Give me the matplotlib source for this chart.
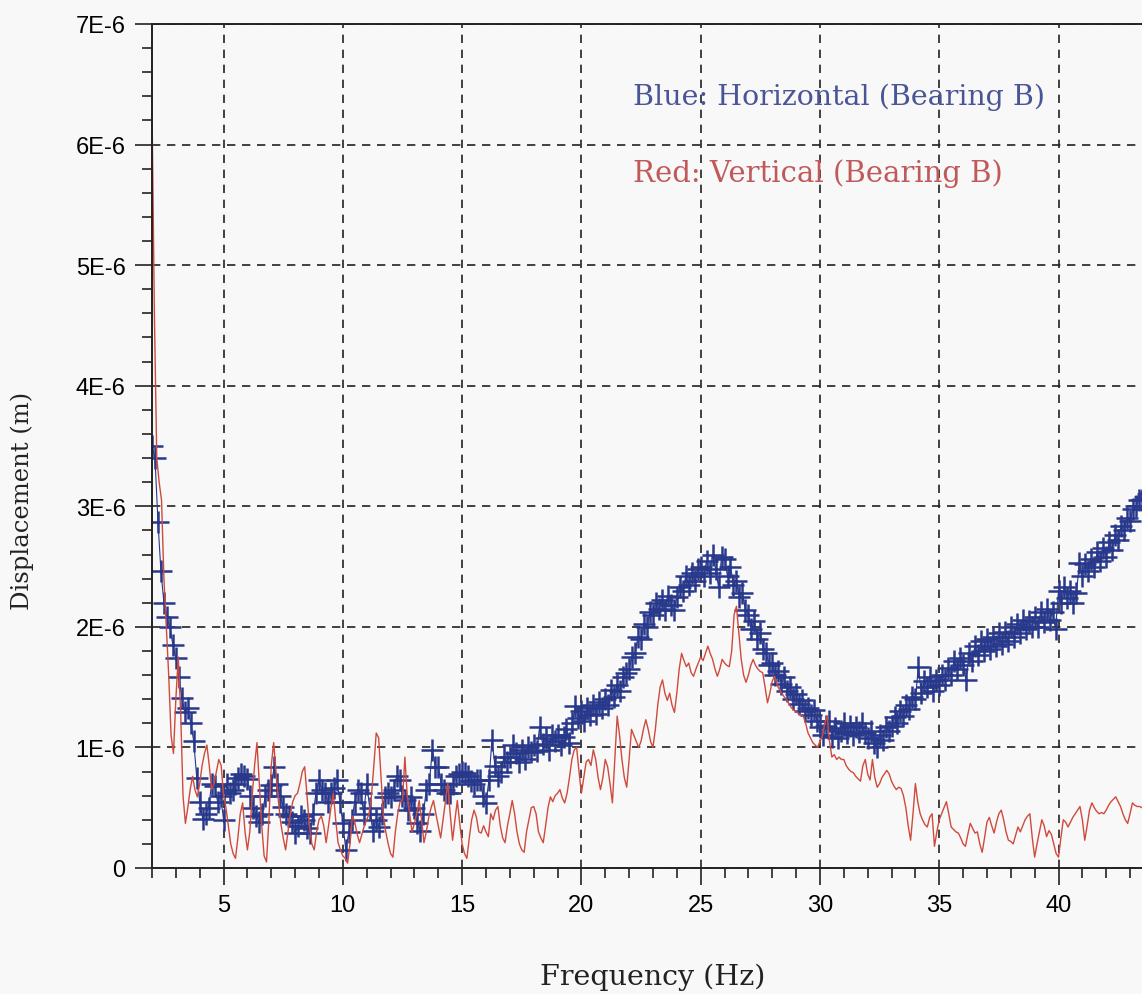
import numpy as np
import matplotlib.pyplot as plt
from matplotlib.ticker import MultipleLocator, FixedLocator, FuncFormatter

# vertical response, sampled every 0.1 Hz from 2 Hz (units of 1E-6 m)
red_disp = [
    6.3, 4.6, 3.4, 3.2, 3.05, 2.4, 2.0, 1.6, 1.1, 0.95,
    1.4, 1.75, 1.3, 0.6, 0.37, 0.5, 0.65, 0.76, 0.65, 0.59,
    0.7, 0.85, 0.95, 1.02, 0.85, 0.65, 0.7, 0.8, 0.9, 0.85,
    0.6, 0.5, 0.35, 0.2, 0.12, 0.08, 0.25, 0.45, 0.54, 0.3,
    0.15, 0.3, 0.6, 0.85, 1.04, 0.7, 0.35, 0.1, 0.05, 0.4,
    0.85, 1.04, 0.8, 0.55, 0.37, 0.25, 0.15, 0.3, 0.45, 0.55,
    0.6, 0.62, 0.7, 0.8, 0.84, 0.6, 0.35, 0.2, 0.15, 0.3,
    0.4, 0.43, 0.35, 0.21, 0.35, 0.5, 0.62, 0.4, 0.21, 0.15,
    0.1, 0.08, 0.04, 0.2, 0.43, 0.38, 0.28, 0.21, 0.28, 0.35,
    0.4, 0.45, 0.6, 0.85, 1.12, 1.08, 0.75, 0.43, 0.3, 0.2,
    0.12, 0.09, 0.3, 0.45, 0.55, 0.56, 0.92, 0.6, 0.45, 0.3,
    0.37, 0.45, 0.56, 0.4, 0.21, 0.3, 0.42, 0.5, 0.56, 0.45,
    0.35, 0.25, 0.4, 0.55, 0.7, 0.45, 0.23, 0.4, 0.56, 0.37,
    0.2, 0.12, 0.08, 0.25, 0.4, 0.48, 0.42, 0.3, 0.29, 0.35,
    0.3, 0.26, 0.45, 0.4, 0.48, 0.51, 0.35, 0.25, 0.21, 0.35,
    0.45, 0.56, 0.45, 0.3, 0.2, 0.15, 0.13, 0.3, 0.4, 0.5,
    0.51, 0.45, 0.3, 0.25, 0.21, 0.35, 0.5, 0.59, 0.55, 0.6,
    0.62, 0.65, 0.58, 0.54, 0.62, 0.75, 0.9, 0.98, 1.0, 0.8,
    0.62, 0.75, 0.88, 0.9, 0.85, 0.98, 0.9, 0.75, 0.65, 0.75,
    0.9, 0.84, 0.7, 0.54, 0.9, 1.26, 1.1, 0.9, 0.75, 0.67,
    0.9, 1.15, 1.1, 1.05, 1.0, 1.05, 1.15, 1.23, 1.15, 1.05,
    1.0, 1.15, 1.35, 1.5, 1.56, 1.45, 1.39, 1.45, 1.35, 1.29,
    1.45, 1.65, 1.78, 1.72, 1.67, 1.7, 1.62, 1.59, 1.65, 1.7,
    1.75, 1.72, 1.78, 1.84, 1.78, 1.73, 1.65, 1.59, 1.65, 1.73,
    1.7, 1.68, 1.67, 1.8, 2.1, 2.17, 1.95, 1.73, 1.6, 1.54,
    1.6, 1.68, 1.73, 1.68, 1.65, 1.63, 1.62, 1.5, 1.37, 1.45,
    1.55, 1.59, 1.52, 1.48, 1.45, 1.42, 1.4, 1.36, 1.33, 1.31,
    1.3, 1.28, 1.27, 1.26, 1.2, 1.12, 1.08, 1.04, 1.02, 1.0,
    1.05, 1.09, 1.2, 1.26, 1.05, 0.92, 0.94, 0.9, 0.92, 0.9,
    0.9, 0.85, 0.82, 0.8, 0.79, 0.76, 0.74, 0.72, 0.85, 0.9,
    0.78, 0.73, 0.9, 0.75, 0.67, 0.7, 0.75, 0.78, 0.81, 0.78,
    0.72, 0.68, 0.65, 0.67, 0.66, 0.6, 0.5, 0.35, 0.23, 0.45,
    0.7, 0.55, 0.45, 0.4, 0.36, 0.34, 0.42, 0.45, 0.18, 0.3,
    0.4, 0.45, 0.5, 0.55, 0.45, 0.34, 0.32, 0.3, 0.29, 0.25,
    0.2, 0.18, 0.28, 0.37, 0.33, 0.29, 0.3, 0.2, 0.13, 0.25,
    0.38, 0.42, 0.35, 0.29, 0.38, 0.45, 0.48, 0.4, 0.3, 0.23,
    0.22, 0.2, 0.27, 0.34, 0.3, 0.35, 0.4, 0.43, 0.45, 0.25,
    0.09, 0.2, 0.3, 0.4, 0.35, 0.26, 0.31, 0.28, 0.2, 0.12,
    0.09, 0.25, 0.4, 0.38, 0.34, 0.38, 0.42, 0.45, 0.48, 0.51,
    0.4, 0.23, 0.35, 0.48, 0.54, 0.5, 0.47, 0.45, 0.46, 0.45,
    0.48, 0.52, 0.55, 0.57, 0.59, 0.55, 0.51, 0.45, 0.4, 0.37,
    0.45, 0.54, 0.52, 0.51, 0.51, 0.5, 0.52, 0.55, 0.5, 0.48,
]

# horizontal response, sampled every 0.125 Hz from 2 Hz (units of 1E-6 m)
blue_disp = [
    3.5, 3.4, 2.87, 2.46, 2.2, 2.08, 2.0, 1.85,
    1.74, 1.58, 1.41, 1.29, 1.33, 1.2, 1.05, 0.75,
    0.55, 0.41, 0.45, 0.5, 0.7, 0.68, 0.55, 0.6,
    0.4, 0.7, 0.62, 0.65, 0.7, 0.75, 0.78, 0.76,
    0.74, 0.6, 0.5, 0.43, 0.38, 0.45, 0.6, 0.65,
    0.69, 0.84, 0.7, 0.6, 0.51, 0.45, 0.43, 0.38,
    0.29, 0.35, 0.43, 0.4, 0.33, 0.29, 0.45, 0.62,
    0.73, 0.65, 0.62, 0.55, 0.62, 0.66, 0.73, 0.55,
    0.37, 0.15, 0.3, 0.4, 0.55, 0.65, 0.62, 0.45,
    0.7, 0.5, 0.31, 0.4, 0.34, 0.45, 0.59, 0.62,
    0.59, 0.65, 0.76, 0.73, 0.6, 0.56, 0.48, 0.59,
    0.5, 0.37, 0.31, 0.45, 0.65, 0.7, 0.98, 0.84,
    0.84, 0.7, 0.65, 0.62, 0.62, 0.7, 0.76, 0.78,
    0.8, 0.79, 0.76, 0.72, 0.7, 0.73, 0.73, 0.6,
    0.54, 0.73, 1.06, 0.85, 0.76, 0.8, 0.92, 0.88,
    0.92, 1.02, 0.95, 0.88, 0.98, 0.9, 1.0, 0.96,
    1.02, 0.97, 1.17, 1.03, 1.08, 0.98, 1.1, 1.05,
    1.1, 1.02, 1.09, 1.15, 1.04, 1.2, 1.34, 1.24,
    1.3, 1.22, 1.33, 1.27, 1.35, 1.28, 1.38, 1.33,
    1.4, 1.35, 1.48, 1.42, 1.52, 1.47, 1.58, 1.62,
    1.65, 1.75, 1.78, 1.92, 1.9, 2.02, 2.0, 2.12,
    2.1, 2.2, 2.15, 2.22, 2.14, 2.26, 2.18, 2.14,
    2.25, 2.33, 2.3, 2.42, 2.35, 2.45, 2.38, 2.48,
    2.5, 2.42, 2.55, 2.45, 2.6, 2.48, 2.33, 2.58,
    2.56, 2.42, 2.5, 2.35, 2.38, 2.25, 2.28, 2.14,
    2.1, 1.98, 2.05, 1.9, 1.95, 1.82, 1.78, 1.68,
    1.7, 1.6, 1.63, 1.53, 1.58, 1.47, 1.5, 1.4,
    1.44, 1.36, 1.39, 1.3, 1.33, 1.27, 1.31, 1.22,
    1.17, 1.1, 1.18, 1.22, 1.09, 1.16, 1.08, 1.14,
    1.2, 1.12, 1.18, 1.1, 1.17, 1.13, 1.2, 1.12,
    1.08, 1.14, 1.04, 1.0, 1.1, 1.06, 1.17, 1.14,
    1.18, 1.25, 1.2, 1.3, 1.26, 1.35, 1.32, 1.42,
    1.4, 1.67, 1.45, 1.55, 1.5, 1.58, 1.47, 1.56,
    1.52, 1.6, 1.56, 1.66, 1.6, 1.72, 1.65, 1.74,
    1.68, 1.56, 1.78, 1.72, 1.84, 1.77, 1.88, 1.8,
    1.9, 1.82, 1.92, 1.84, 1.95, 1.86, 1.96, 1.88,
    2.0, 1.92, 2.02, 1.95, 2.06, 1.98, 2.05, 2.0,
    2.08, 2.0, 2.12, 2.04, 2.15, 2.06, 2.12, 1.98,
    2.3, 2.2, 2.33, 2.24, 2.3, 2.2, 2.28, 2.53,
    2.42, 2.52, 2.46, 2.56, 2.5, 2.62, 2.55, 2.65,
    2.58, 2.7, 2.64, 2.76, 2.72, 2.84, 2.8, 2.9,
    2.88, 2.98, 3.0, 3.05, 3.05, 3.08, 3.1, 3.12,
]

x_ticks = [5, 10, 15, 20, 25, 30, 35, 40]
y_ticks = [0, 1, 2, 3, 4, 5, 6, 7]
y_ticklabels = ['0', '1E-6', '2E-6', '3E-6', '4E-6', '5E-6', '6E-6', '7E-6']

f_red = 2.0 + 0.1 * np.arange(len(red_disp))
f_blue = 2.0 + 0.125 * np.arange(len(blue_disp))
red_m = np.array(red_disp) * 1e-6
blue_m = np.array(blue_disp) * 1e-6

bg = '#f8f8f8'
fig = plt.figure(figsize=(11.42, 9.95), dpi=100, facecolor=bg)
ax = fig.add_axes([152 / 1142, 126 / 995, 990 / 1142, 844 / 995], facecolor=bg)

ax.plot(f_blue, blue_m, color='#28388b', lw=0.8, marker='+', ms=16, mew=1.8)
ax.plot(f_red, red_m, color='#cf4a3c', lw=1.0)

ax.set_xlim(2.0, 43.5)
ax.set_ylim(0, 7e-6)

ax.xaxis.set_major_locator(FixedLocator(x_ticks))
ax.xaxis.set_minor_locator(MultipleLocator(1))
ax.yaxis.set_major_locator(FixedLocator([v * 1e-6 for v in y_ticks]))
ax.yaxis.set_minor_locator(MultipleLocator(0.2e-6))
ax.yaxis.set_major_formatter(FuncFormatter(lambda v, p: y_ticklabels[int(round(v * 1e6))]))

ax.tick_params(which='major', length=12, width=1.3, color='#333333', labelsize=17, pad=7)
ax.tick_params(which='minor', length=7, width=1.3, color='#333333')
for lab in ax.get_xticklabels() + ax.get_yticklabels():
    lab.set_family('Liberation Sans')

ax.grid(True, which='major', color='#222222', ls=(0, (5, 4)), lw=1.2)
for s in ['left', 'bottom', 'top']:
    ax.spines[s].set_color('#222222')
    ax.spines[s].set_linewidth(1.4)
ax.spines['right'].set_visible(False)

ax.text(22.15, 6.40e-6, 'Blue: Horizontal (Bearing B)', color='#4a5596',
        fontsize=20.5, family='DejaVu Serif', va='center', ha='left')
ax.text(22.15, 5.77e-6, 'Red: Vertical (Bearing B)', color='#c0595a',
        fontsize=21, family='DejaVu Serif', va='center', ha='left')

fig.text(653 / 1142, 1 - 977 / 995, 'Frequency (Hz)', fontsize=20.5,
         family='DejaVu Serif', ha='center', va='center', color='#222222')
fig.text(22 / 1142, 1 - 501 / 995, 'Displacement (m)', fontsize=17.5, rotation=90,
         family='DejaVu Serif', ha='center', va='center', color='#222222')

fig.savefig('out.png', dpi=100, facecolor=bg)
